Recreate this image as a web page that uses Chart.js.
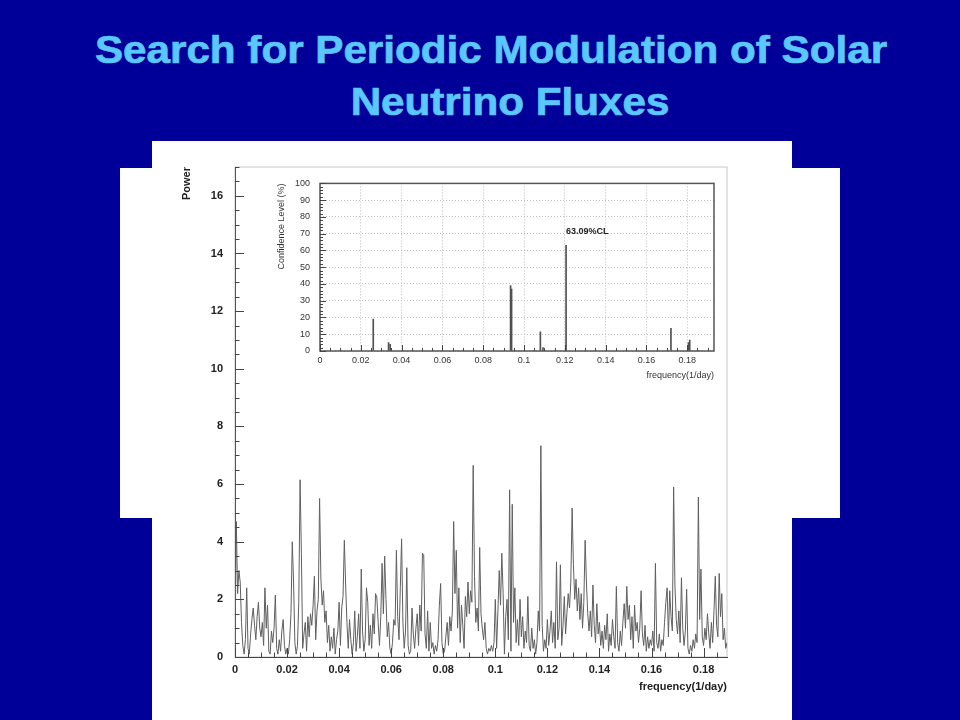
<!DOCTYPE html>
<html>
<head>
<meta charset="utf-8">
<title>Search for Periodic Modulation of Solar Neutrino Fluxes</title>
<script src="https://cdn.jsdelivr.net/npm/chart.js@4.4.1/dist/chart.umd.min.js"></script>
<style>
    html, body { margin: 0; padding: 0; }
    body {
        width: 960px; height: 720px; overflow: hidden; position: relative;
        background: #000099;
        font-family: "Liberation Sans", Arial, sans-serif;
    }
    .title {
        position: absolute; left: 0; width: 960px; text-align: center;
        color: #5ac8ff; font-weight: bold; font-size: 38px; line-height: 38px;
        white-space: nowrap; transform: scaleX(1.11);
        -webkit-text-stroke: 0.7px #5ac8ff;
    }
    .panel { position: absolute; background: #fff; }
    canvas { position: absolute; }
</style>
</head>
<body>
<div class="title" style="top:31px; margin-left:11px;">Search for Periodic Modulation of Solar</div>
<div class="title" style="top:83px; margin-left:30px;">Neutrino Fluxes</div>

<div class="panel" style="left:120px; top:168px; width:720px; height:350px;"></div>
<div class="panel" style="left:152px; top:141px; width:640px; height:579px;"></div>

<canvas id="powerChart" width="640" height="579" style="left:152px; top:141px;"></canvas>
<canvas id="clChart" width="492" height="222" style="left:235px; top:168px;"></canvas>

<script>
// Periodogram power, one value every FREQ_STEP (1/day), rows of 0.01
const FREQ_STEP = 0.0005;
const power = [
    0.3, 4.7, 2.2, 3.0, 2.6, 1.2, 0.4, 0.1, 0.6, 2.4, 0.3, 0.1, 0.8, 1.3, 1.7, 1.1, 0.6, 1.4, 1.9, 1.0,
    0.7, 1.2, 0.4, 2.4, 1.0, 1.8, 0.2, 0.1, 0.9, 0.5, 1.0, 2.15, 0.3, 0.1, 0.6, 0.2, 0.9, 1.3, 0.4, 0.1,
    0.3, 0.1, 0.6, 1.5, 4.0, 2.6, 0.5, 0.1, 0.4, 1.9, 6.15, 3.6, 0.3, 0.8, 1.2, 0.2, 1.4, 0.7, 1.5, 1.1,
    1.8, 2.8, 0.6, 1.6, 2.0, 5.5, 2.7, 1.8, 2.3, 1.2, 1.6, 0.5, 1.1, 0.2, 0.7, 0.3, 1.0, 0.1, 0.6, 0.9,
    1.9, 0.4, 1.7, 2.1, 4.05, 2.5, 1.2, 0.3, 1.3, 0.6, 0.1, 0.5, 1.6, 0.2, 0.7, 1.5, 0.3, 3.05, 0.9, 0.2,
    0.6, 2.4, 1.9, 0.4, 1.1, 0.3, 1.5, 0.8, 2.2, 2.05, 1.2, 0.4, 1.4, 3.25, 1.5, 3.5, 2.0, 0.7, 1.2, 0.3,
    0.1, 0.5, 1.3, 1.1, 3.7, 1.4, 0.6, 2.4, 4.1, 1.2, 0.3, 0.9, 3.1, 0.4, 0.1, 0.2, 1.7, 0.8, 0.3, 1.0,
    1.5, 0.4, 1.8, 0.9, 3.6, 3.55, 0.8, 0.3, 1.6, 0.2, 1.2, 0.3, 0.5, 0.1, 0.4, 0.2, 0.6, 1.8, 2.55, 0.5,
    0.1, 0.2, 0.7, 1.2, 0.4, 1.4, 0.9, 1.6, 4.7, 2.2, 3.7, 1.0, 2.4, 0.5, 1.8, 1.1, 0.3, 2.1, 1.4, 2.6,
    1.5, 2.3, 1.9, 6.65, 2.8, 1.2, 1.7, 0.9, 3.8, 1.5, 1.0, 0.6, 1.2, 0.3, 0.1, 0.3, 0.2, 0.4, 0.2, 0.5,
    2.0, 0.3, 1.6, 3.0, 1.8, 3.6, 2.2, 0.1, 1.4, 2.0, 0.6, 5.8, 0.2, 5.3, 1.2, 2.4, 0.5, 1.3, 0.4, 2.0,
    0.7, 1.4, 0.3, 0.9, 0.5, 2.1, 0.4, 0.2, 1.0, 0.3, 0.6, 0.1, 0.5, 1.6, 0.9, 7.33, 1.1, 0.2, 0.6, 0.3,
    1.3, 0.4, 0.9, 1.6, 0.5, 1.2, 0.3, 3.3, 0.6, 1.0, 3.2, 0.4, 1.1, 2.1, 0.8, 1.5, 2.2, 1.7, 2.6, 5.17,
    3.2, 2.0, 2.7, 1.6, 2.4, 1.3, 2.2, 1.0, 1.9, 4.05, 2.6, 1.5, 0.9, 1.6, 0.7, 2.5, 1.1, 0.5, 1.85, 0.8,
    1.2, 0.4, 0.9, 0.3, 1.1, 0.6, 1.5, 0.2, 0.8, 0.4, 1.3, 0.7, 0.3, 2.45, 0.5, 0.2, 0.9, 0.4, 1.2, 1.85,
    1.0, 2.45, 1.3, 1.8, 0.6, 1.4, 0.3, 1.8, 0.9, 1.2, 0.5, 1.0, 2.3, 0.8, 0.4, 1.1, 0.2, 0.7, 0.3, 0.6,
    0.4, 0.9, 0.2, 3.25, 0.5, 0.3, 0.8, 0.2, 0.6, 0.4, 1.2, 1.9, 2.4, 0.7, 2.3, 1.4, 0.9, 5.9, 2.5, 1.3,
    0.8, 1.6, 0.5, 2.75, 1.0, 0.4, 0.9, 2.35, 0.3, 0.1, 0.4, 0.2, 0.6, 0.3, 0.8, 0.5, 5.55, 1.3, 3.05, 0.7,
    0.4, 1.0, 0.6, 1.5, 0.8, 0.3, 1.2, 0.5, 1.6, 2.8, 1.1, 0.7, 2.9, 1.4, 2.2, 0.6, 1.0, 0.3, 0.5
];

const mainXTicks = [0, 0.02, 0.04, 0.06, 0.08, 0.1, 0.12, 0.14, 0.16, 0.18];
const mainXLabels = ['0', '0.02', '0.04', '0.06', '0.08', '0.1', '0.12', '0.14', '0.16', '0.18'];
const mainYTicks = [0, 2, 4, 6, 8, 10, 12, 14, 16];

// Inset: confidence level spikes
const clFreq = [0.0261, 0.0336, 0.0344, 0.0934, 0.0939, 0.1080, 0.1093, 0.1206, 0.1720, 0.1806, 0.1812];
const clLevel = [19, 5, 4, 39, 37, 11.5, 2, 63.09, 13.5, 5, 6.5];
const clYTicks = [0, 10, 20, 30, 40, 50, 60, 70, 80, 90, 100];
const clNote = { text: '63.09%CL', freq: 0.1206, level: 71.5 };

Chart.defaults.font.family = '"Liberation Sans", Arial, sans-serif';

// ROOT-style inward ticks and frame
const rootAxes = {
    id: 'rootAxes',
    beforeDraw(chart, args, opts) {
        if (!opts.frame || opts.frame.over) return;
        drawFrame(chart, opts.frame);
    },
    afterDatasetsDraw(chart, args, opts) {
        const { ctx, chartArea: a, scales: { x, y } } = chart;
        if (opts.frame && opts.frame.over) drawFrame(chart, opts.frame);
        ctx.save();
        ctx.strokeStyle = opts.tickColor;
        ctx.lineWidth = 1;
        ctx.beginPath();
        const nx = Math.floor((x.max - x.min) / opts.xMinor + 1e-6);
        for (let i = 0; i <= nx; i++) {
            const px = Math.round(x.getPixelForValue(i * opts.xMinor)) + 0.5;
            const len = i % opts.xSub === 0 ? opts.major : opts.minor;
            ctx.moveTo(px, a.bottom);
            ctx.lineTo(px, a.bottom - len);
        }
        const ny = Math.floor((y.max - y.min) / opts.yMinor + 1e-6);
        for (let i = 0; i <= ny; i++) {
            const py = Math.round(y.getPixelForValue(i * opts.yMinor)) + 0.5;
            const len = i % opts.ySub === 0 ? opts.major : opts.minor;
            ctx.moveTo(a.left, py);
            ctx.lineTo(a.left + len, py);
        }
        ctx.stroke();
        if (opts.note) {
            ctx.fillStyle = '#222';
            ctx.font = 'bold 9px "Liberation Sans", Arial, sans-serif';
            ctx.textBaseline = 'middle';
            ctx.textAlign = 'left';
            ctx.fillText(opts.note.text, x.getPixelForValue(opts.note.freq), y.getPixelForValue(opts.note.level));
        }
        ctx.restore();
    }
};

function drawFrame(chart, f) {
    const { ctx, chartArea: a } = chart;
    ctx.save();
    ctx.strokeStyle = f.color;
    ctx.lineWidth = f.width;
    ctx.strokeRect(a.left, a.top, a.right - a.left, a.bottom - a.top);
    ctx.restore();
}

// Main periodogram
new Chart(document.getElementById('powerChart'), {
    type: 'line',
    data: {
        datasets: [{
            data: power.map((p, i) => ({ x: i * FREQ_STEP, y: p })),
            borderColor: 'rgb(95, 95, 95)',
            borderWidth: 1,
            pointRadius: 0,
            tension: 0,
            fill: false
        }]
    },
    options: {
        responsive: false,
        animation: false,
        layout: { padding: { top: 26, right: 65 } },
        plugins: {
            legend: { display: false },
            tooltip: { enabled: false },
            rootAxes: {
                tickColor: '#444', major: 9, minor: 4.5,
                xMinor: 0.005, xSub: 4, yMinor: 0.5, ySub: 4,
                frame: { color: '#c8c8c8', width: 1, over: false }
            }
        },
        scales: {
            x: {
                type: 'linear', min: 0, max: 0.189,
                afterBuildTicks: s => { s.ticks = mainXTicks.map(v => ({ value: v })); },
                afterFit: s => { s.height = 63; },
                grid: { display: false, drawTicks: false },
                border: { display: true, color: '#444', width: 1 },
                ticks: {
                    padding: 6, color: '#222', autoSkip: false, maxRotation: 0,
                    font: { size: 11, weight: 'bold' },
                    callback: (v, i) => mainXLabels[i]
                },
                title: {
                    display: true, text: 'frequency(1/day)', align: 'end', color: '#222',
                    font: { size: 11, weight: 'bold' }, padding: { top: 0, bottom: 26 }
                }
            },
            y: {
                min: 0, max: 17,
                afterBuildTicks: s => { s.ticks = mainYTicks.map(v => ({ value: v })); },
                afterFit: s => { s.width = 83; },
                grid: { display: false, drawTicks: false },
                border: { display: true, color: '#555', width: 1 },
                ticks: { padding: 12, color: '#222', font: { size: 11, weight: 'bold' } },
                title: {
                    display: true, text: 'Power', align: 'end', color: '#222',
                    font: { size: 11, weight: 'bold' }, padding: { top: 28, bottom: 0 }
                }
            }
        }
    },
    plugins: [rootAxes]
});

// Inset: confidence level
new Chart(document.getElementById('clChart'), {
    type: 'bar',
    data: {
        datasets: [{
            data: clFreq.map((f, i) => ({ x: f, y: clLevel[i] })),
            backgroundColor: '#505050',
            barThickness: 1
        }]
    },
    options: {
        responsive: false,
        animation: false,
        layout: { padding: { top: 11, right: 13 } },
        plugins: {
            legend: { display: false },
            tooltip: { enabled: false },
            rootAxes: {
                tickColor: '#444', major: 6, minor: 3,
                xMinor: 0.005, xSub: 4, yMinor: 2, ySub: 5,
                frame: { color: '#555', width: 1.5, over: true },
                note: clNote
            }
        },
        scales: {
            x: {
                type: 'linear', min: 0, max: 0.1931, offset: false,
                afterBuildTicks: s => { s.ticks = mainXTicks.map(v => ({ value: v })); },
                afterFit: s => { s.height = 39; },
                grid: { color: '#bdbdbd', drawTicks: false, offset: false },
                border: { display: false, dash: [1, 2] },
                ticks: {
                    padding: 4, color: '#333', autoSkip: false, maxRotation: 0,
                    font: { size: 9 },
                    callback: (v, i) => mainXLabels[i]
                },
                title: {
                    display: true, text: 'frequency(1/day)', align: 'end', color: '#333',
                    font: { size: 9 }, padding: { top: 0, bottom: 8.6 }
                }
            },
            y: {
                min: 0, max: 100,
                afterBuildTicks: s => { s.ticks = clYTicks.map(v => ({ value: v })); },
                afterFit: s => { s.width = 85; },
                grid: { color: '#bdbdbd', drawTicks: false },
                border: { display: false, dash: [1, 2] },
                ticks: { padding: 10, color: '#333', font: { size: 9 } },
                title: {
                    display: true, text: 'Confidence Level (%)', align: 'end', color: '#333',
                    font: { size: 9 }, padding: { top: 41.6, bottom: 0 }
                }
            }
        }
    },
    plugins: [rootAxes]
});
</script>
</body>
</html>
